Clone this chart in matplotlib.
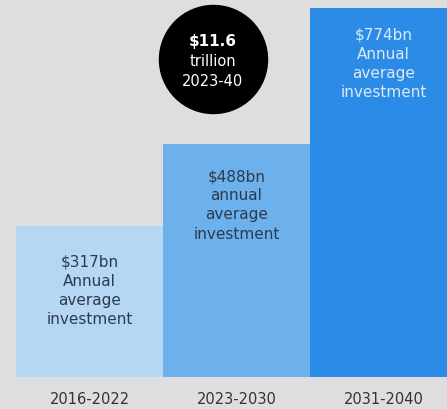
import matplotlib.pyplot as plt

# Average annual investment per period ($bn)
periods = ['2016-2022', '2023-2030', '2031-2040']
investment_bn = [317, 488, 774]
bar_notes = ['Annual\naverage\ninvestment',
             'annual\naverage\ninvestment',
             'Annual\naverage\ninvestment']
total_label = ['$11.6', 'trillion', '2023-40']

bg = '#dedede'
bar_colors = ['#b6d7f4', '#6cb0ec', '#2b8be6']
text_colors = ['#2b3b4e', '#2b3b4e', '#dce9f7']
text_offsets = [-28, -24, -19]  # px below bar top

fig = plt.figure(figsize=(4.47, 4.10), dpi=100, facecolor=bg)
ax = fig.add_axes([0, 32 / 410, 1, 378 / 410])
ax.set_facecolor(bg)

x = range(len(periods))
ax.bar(x, investment_bn, width=1.0, color=bar_colors, linewidth=0)

for i, v in enumerate(investment_bn):
    ax.annotate(f'${v}bn\n{bar_notes[i]}', xy=(i, v), xytext=(0, text_offsets[i]),
                textcoords='offset pixels', ha='center', va='top',
                fontsize=11, color=text_colors[i], linespacing=1.35)

# total badge
cx = 0.4765
ax.scatter([cx], [0.841], s=6050, color='black', transform=ax.transAxes,
           zorder=5, clip_on=False)
for txt, yy, w in zip(total_label, [0.8915, 0.8386, 0.7857], ['bold', 'normal', 'normal']):
    ax.text(cx, yy, txt, transform=ax.transAxes, ha='center', va='center',
            fontsize=11 if w == 'bold' else 10.5, fontweight=w,
            color='white', zorder=6)

ax.set_xlim(-0.609, 2.432)
ax.set_ylim(0, 792)
ax.set_xticks(list(x))
ax.set_xticklabels(periods, fontsize=10.5, color='#333333')
ax.tick_params(axis='x', length=0, pad=10)
ax.set_yticks([])
for s in ax.spines.values():
    s.set_visible(False)

fig.savefig('out.png', dpi=100, facecolor=bg)
